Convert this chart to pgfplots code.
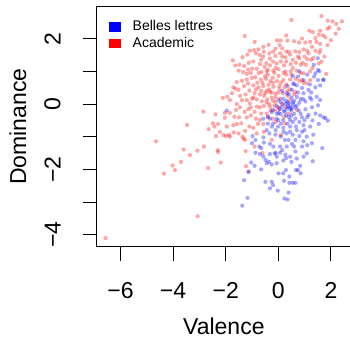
\documentclass[border=0pt]{standalone}
\usepackage{fontspec}
\setmainfont{Liberation Sans}
\usepackage{pgfplots}
\pgfplotsset{compat=1.18}
\definecolor{rblue}{RGB}{0,0,255}
\definecolor{rred}{RGB}{255,0,0}
\begin{document}
\begin{tikzpicture}
\begin{axis}[
  at={(0,0)}, anchor=south west,
  scale only axis, width=254.3bp, height=240bp,
  xmin=-6.905, xmax=2.764, ymin=-4.364, ymax=2.976,
  axis line style={line width=0.9bp},
  tick align=outside, major tick length=14bp,
  tick style={line width=0.9bp, black},
  xtick pos=left, ytick pos=left,
  xtick={-6,-4,-2,0,2}, xticklabels={−6,−4,−2,0,2},
  ytick={-4,-3,...,2}, yticklabels={−4,,−2,,0,,2},
  ticklabel style={font=\fontsize{23bp}{27bp}\selectfont},
  yticklabel style={rotate=90, anchor=south},
  xticklabel shift=18.5bp, yticklabel shift=18.5bp,
  xlabel={Valence}, ylabel={Dominance},
  label style={font=\fontsize{23bp}{27bp}\selectfont},
  xlabel style={at={(axis description cs:0.5,-0.36375)}, anchor=base},
  ylabel style={at={(axis description cs:-0.278,0.5)}, anchor=base},
  legend cell align=left,
  legend style={at={(axis description cs:0.045,0.955)}, anchor=north west,
    draw=none, fill=none, font=\fontsize{14bp}{16bp}\selectfont,
    row sep=1bp, inner sep=1bp},
]
\addplot[only marks, mark=*, mark size=2.1bp, color=rred, draw opacity=0, fill opacity=0.35, mark options={draw=none, fill=rred}, forget plot] table {
-6.57 -4.10
-3.07 -3.43
-4.65 -1.14
-4.35 -2.13
-4.02 -1.88
-3.93 -2.02
-3.70 -1.77
-3.60 -1.39
-3.36 -1.56
-3.47 -0.64
-3.07 -1.43
-2.83 -1.30
-2.85 -0.23
-2.67 -1.96
-2.30 -1.41
-2.19 -1.79
-2.29 -1.47
-2.39 -0.32
-2.49 -0.59
-2.43 -0.69
-2.65 -0.77
-2.37 -0.98
-2.22 -0.85
-2.29 -0.61
-2.11 0.19
-2.03 -0.27
-1.96 -0.69
-1.88 -0.94
-1.99 -0.98
-2.09 -0.95
-1.84 -1.00
-1.71 -0.65
-1.58 -0.61
-1.69 -0.87
-1.51 -0.90
-1.41 -0.59
-1.32 -1.06
-1.26 -1.10
-1.24 -1.44
-1.23 -1.90
-1.13 -2.06
-1.26 -0.82
-1.10 -0.69
-0.95 -0.73
-1.84 0.12
-1.94 0.22
-1.76 0.33
-1.63 0.47
-1.58 0.00
-1.46 -0.10
-1.28 -0.24
-1.20 -0.41
-1.38 0.12
-1.25 0.29
-1.20 0.12
-1.08 0.02
-0.99 0.16
-1.49 -0.41
-1.67 -0.39
-1.84 -0.27
-1.61 -0.18
-2.03 -0.42
-1.14 -0.16
-0.90 -0.24
-0.82 -0.08
-1.28 2.08
0.50 2.57
1.64 2.69
1.88 2.55
2.06 2.53
2.42 2.53
2.18 2.15
1.87 2.30
1.59 2.24
1.31 2.20
1.18 2.24
1.79 2.04
1.54 2.12
1.41 2.02
1.21 1.90
1.03 1.88
0.79 1.88
0.60 1.92
0.35 1.94
0.09 1.94
-0.11 1.69
-0.37 1.81
-0.57 1.75
-0.76 1.67
-0.92 1.65
-1.08 1.63
-0.85 1.55
-1.17 1.51
-1.36 1.43
-1.73 1.33
-1.63 1.18
-1.48 1.20
-1.30 1.16
-1.12 1.26
-0.95 1.30
-0.99 1.08
-1.51 1.02
-1.34 0.98
-1.20 0.92
-0.57 1.45
-0.32 1.39
-0.11 1.47
0.07 1.55
0.27 1.43
0.45 1.51
0.65 1.61
0.80 1.59
0.96 1.67
1.10 1.63
1.28 1.75
1.41 1.63
1.56 1.57
1.59 1.84
1.87 1.80
1.64 1.30
1.54 1.24
1.33 1.41
1.10 1.37
0.93 1.26
0.67 1.26
0.47 1.22
0.22 1.18
-0.06 1.24
-0.32 1.18
-0.52 1.14
-0.70 1.22
-0.82 1.08
-0.64 0.98
-0.44 1.00
-0.19 1.02
0.01 1.06
0.27 1.00
0.47 1.00
0.70 1.02
0.96 0.94
1.21 1.00
1.82 0.92
-0.87 0.82
-0.67 0.75
-0.47 0.77
-0.21 0.80
0.01 0.86
0.19 0.73
0.45 0.75
0.67 0.77
0.90 0.73
1.08 0.63
-1.58 0.67
-1.38 0.71
-1.15 0.63
-0.95 0.57
-0.75 0.51
-0.57 0.55
-0.37 0.59
-0.19 0.53
0.04 0.55
0.24 0.51
-1.71 0.51
-1.51 0.43
-1.10 0.41
-0.90 0.33
-0.70 0.29
-0.49 0.33
-0.32 0.37
-0.11 0.31
-0.82 0.14
-0.62 0.08
-0.42 0.14
-0.21 0.10
-0.55 -0.06
-0.32 -0.08
-0.13 -0.20
-0.44 -0.29
-0.65 -0.29
-0.70 -0.49
-0.57 -0.61
-0.21 -0.45
-0.77 -0.61
-0.11 0.06
0.07 0.16
0.04 -0.16
0.22 -0.39
0.40 -0.29
0.70 -0.18
0.96 0.65
1.21 0.73
0.45 0.12
0.65 0.37
0.45 0.45
0.17 0.33
-0.34 1.55
-0.82 -0.90
-1.36 -1.00
-0.45 1.25
-0.20 1.60
0.15 1.70
0.30 1.30
-0.60 0.65
-0.35 0.45
-0.05 0.70
0.30 0.60
0.55 1.10
0.85 1.20
1.00 1.45
1.30 1.10
1.45 1.90
1.70 2.10
1.95 2.35
2.20 2.45
0.90 2.00
0.30 2.10
-0.90 1.90
-0.10 0.20
0.15 0.00
0.35 0.25
-0.30 -0.20
-0.10 -0.55
0.25 -0.60
0.60 0.30
0.80 0.70
-1.00 0.80
-1.30 0.55
-0.70 -0.10
-1.05 -0.35
-0.55 -0.85
-0.25 -1.10
0.10 -0.95
-0.90 -1.30
-0.60 -1.50
-0.40 0.90
-0.15 0.95
0.10 1.30
0.40 1.60
-0.65 1.35
-0.25 0.35
0.05 0.45
-0.45 0.05
-0.85 0.45
0.30 0.90
0.75 1.45
1.15 1.55
-0.30 0.70
0.05 1.80
-0.55 0.25
-0.75 0.95
-0.50 0.85
-0.10 1.10
0.20 0.95
0.50 0.90
0.85 0.95
1.05 1.20
-1.05 0.95
-0.80 0.65
-0.45 0.40
-0.20 0.65
0.10 0.65
0.35 0.40
-0.65 0.40
-0.95 0.20
-0.35 0.00
-0.15 -0.05
0.00 0.35
-0.55 1.60
-0.20 1.30
0.55 1.35
0.80 1.40
1.25 1.35
1.60 1.65
1.75 1.45
2.00 1.95
2.30 2.30
-0.70 1.50
0.15 1.45
-0.40 1.05
0.30 1.60
-1.20 0.75
-1.45 0.25
-1.05 -0.10
-0.85 -0.45
-0.40 -0.40
0.00 -0.10
0.30 -0.10
-0.25 0.20
-1.15 1.05
-0.05 1.95
};
\addplot[only marks, mark=*, mark size=2.1bp, color=rblue, draw opacity=0, fill opacity=0.35, mark options={draw=none, fill=rblue}, forget plot] table {
-1.37 -3.11
-1.17 -2.87
-1.30 -2.33
-0.49 -2.38
-0.25 -2.38
-0.20 -2.48
-0.32 -2.58
-0.02 -2.65
0.22 -2.35
0.42 -2.22
0.42 -2.41
0.55 -2.41
0.65 -2.41
0.23 -2.89
0.35 -2.92
0.39 -2.71
0.29 -2.02
0.01 -2.12
-0.06 -1.81
-0.44 -1.81
-0.48 -1.71
-0.35 -1.77
-0.90 -1.89
-1.03 -1.79
-0.87 -1.49
-0.70 -1.53
-0.57 -1.61
-0.32 -1.53
-0.14 -1.51
0.07 -1.49
0.27 -1.55
0.45 -1.61
0.70 -1.67
0.83 -1.89
0.67 -2.02
0.75 -2.02
0.50 -1.77
0.19 -1.73
-0.72 -1.30
-0.55 -1.18
-0.32 -1.22
-0.19 -1.30
0.07 -1.30
0.32 -1.30
0.52 -1.22
0.60 -1.30
0.90 -1.30
1.10 -1.26
1.28 -1.20
1.67 -1.35
1.31 -1.75
1.33 -0.94
-0.98 -0.98
-0.87 -1.10
-0.57 -1.02
-0.34 -0.90
-0.11 -0.94
0.09 -1.00
0.32 -0.90
0.55 -0.94
0.80 -0.98
1.08 -1.00
-0.44 -0.80
-0.24 -0.69
-0.01 -0.69
0.19 -0.73
0.45 -0.69
0.67 -0.69
0.96 -0.65
1.21 -0.69
1.54 -0.61
1.72 -0.41
1.88 -0.51
1.79 -0.43
1.59 -0.35
1.41 -0.29
1.15 -0.33
0.90 -0.41
0.65 -0.45
0.45 -0.49
0.19 -0.49
-0.06 -0.45
-0.32 -0.45
0.01 -0.27
0.25 -0.24
0.50 -0.20
0.78 -0.20
1.03 -0.16
1.28 -0.10
1.51 -0.04
1.59 0.12
1.46 0.22
1.26 0.14
1.03 0.08
0.80 0.04
0.57 -0.02
0.37 -0.06
0.14 -0.08
-0.06 -0.06
0.45 -0.08
0.40 0.02
0.32 -0.14
0.51 -0.13
0.09 -0.31
0.70 0.22
0.96 0.33
1.15 0.43
1.41 0.51
1.59 0.57
1.51 0.73
1.36 0.84
1.56 1.00
1.72 0.75
0.90 0.49
0.70 0.57
0.52 0.43
0.32 0.33
0.19 0.16
0.01 0.12
-0.21 -0.18
-0.39 -0.39
-0.57 -0.45
-1.96 -0.20
-1.00 -1.20
-1.13 -2.08
0.96 -1.61
1.08 -1.51
0.85 -2.12
0.19 -2.12
-0.06 -1.61
-0.65 -1.35
0.15 -1.41
0.39 -1.10
0.65 -1.10
0.96 -1.14
0.75 0.84
0.96 0.73
0.57 0.63
0.30 0.10
0.50 0.20
0.60 -0.30
0.20 -0.20
0.70 -0.05
0.40 -0.40
0.10 0.05
0.55 0.05
0.85 -0.30
0.35 -0.60
0.00 -0.50
-0.20 -0.60
0.75 0.35
1.00 -0.50
0.15 0.40
-0.25 -0.25
0.45 -0.85
0.25 -1.10
-0.10 -1.50
0.90 -0.85
1.20 0.20
0.60 0.60
1.10 0.90
1.35 1.20
1.50 1.40
0.80 1.00
1.41 0.94
1.71 0.73
1.51 1.04
0.35 0.05
0.45 -0.15
0.25 0.00
0.60 0.10
0.50 -0.35
0.30 -0.35
0.65 -0.10
0.40 0.30
-0.05 -0.30
0.85 0.15
0.10 -0.60
0.55 -0.55
0.80 -0.55
1.10 -0.40
1.30 -0.50
0.20 -0.85
-0.10 -0.80
0.70 -0.80
1.00 -0.80
0.35 0.55
0.95 0.15
1.25 0.35
0.05 -0.15
-0.40 -0.60
0.65 -1.45
0.30 -1.65
-0.25 -1.85
-0.65 -2.00
0.55 0.85
1.20 0.60
};
\addlegendimage{legend image code/.code={\fill[rblue] (0bp,-4.2bp) rectangle (10.5bp,4.2bp); \path (21bp,0bp);}}
\addlegendentry{Belles lettres}
\addlegendimage{legend image code/.code={\fill[rred] (0bp,-4.2bp) rectangle (10.5bp,4.2bp); \path (21bp,0bp);}}
\addlegendentry{Academic}
\end{axis}
\pgfresetboundingbox
\path[use as bounding box] (-96.7bp,-94.3bp) rectangle (253.3bp,246.7bp);
\end{tikzpicture}
\end{document}
